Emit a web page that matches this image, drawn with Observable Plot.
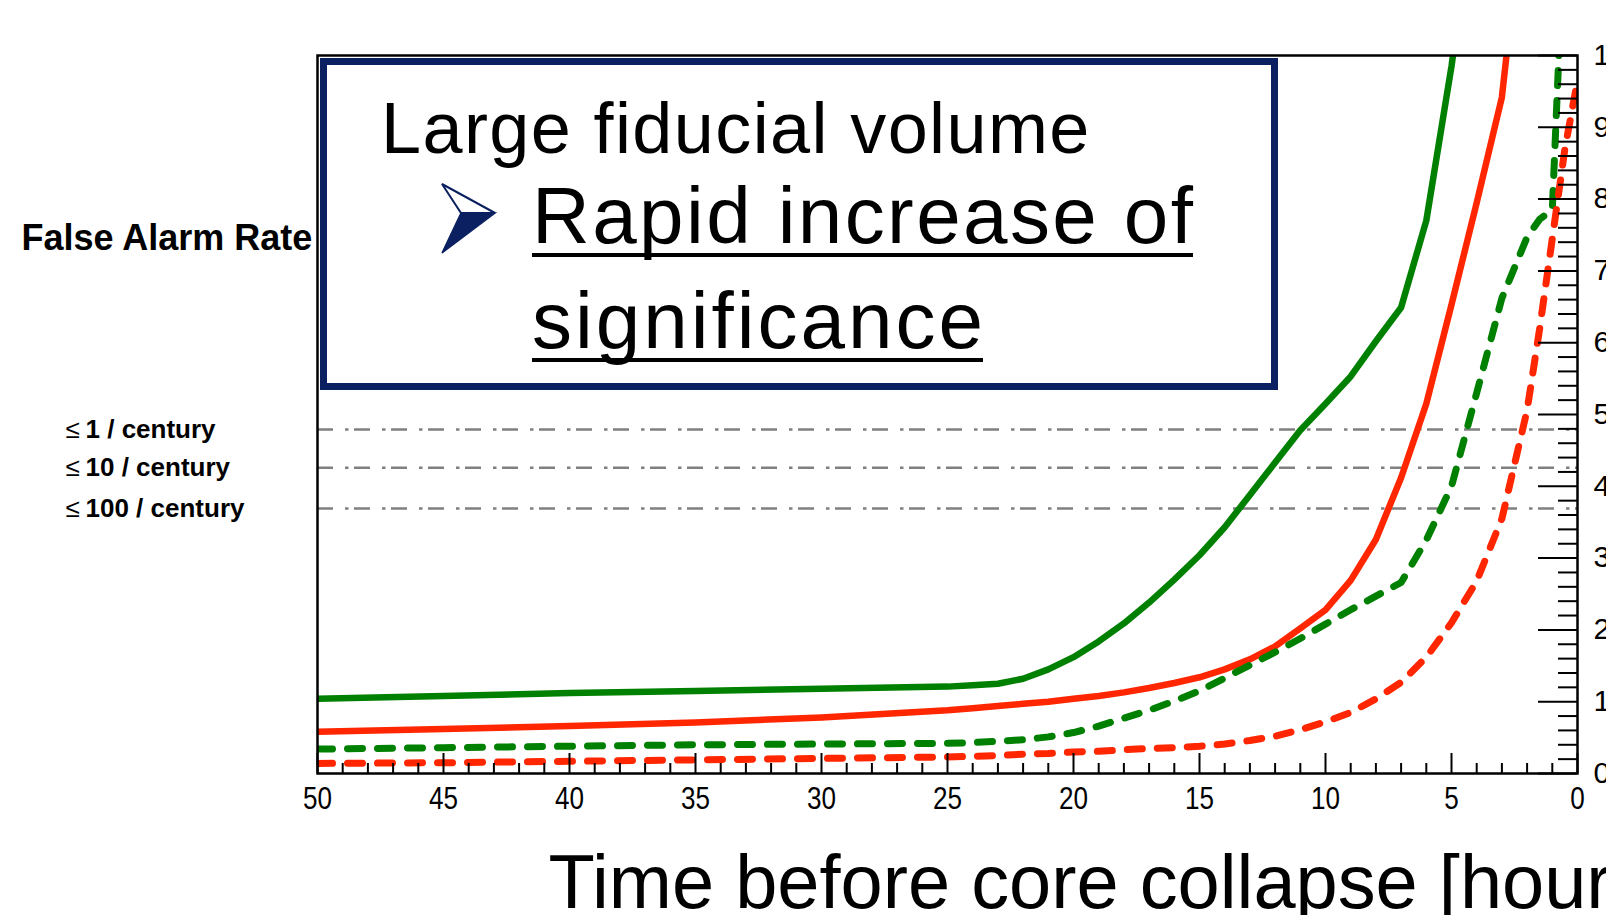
<!DOCTYPE html>
<html>
<head>
<meta charset="utf-8">
<script src="https://cdn.jsdelivr.net/npm/d3@7"></script>
<script src="https://cdn.jsdelivr.net/npm/@observablehq/plot@0.6"></script>
<style>
html, body { margin: 0; padding: 0; background: #fff; overflow: hidden; width: 1606px; height: 915px; }
#wrap { position: relative; width: 1606px; height: 915px; }
#ov { position: absolute; left: 0; top: 0; pointer-events: none; }
</style>
</head>
<body>
<div id="wrap"></div>
<script>
// ---------- data ----------
const hours = [50,45,40,35,30,25,24,23,22,21,20,19,18,17,16,15,14,13,12,11,10,9,8,7,6,5,4,3,2,1.5,1,0.5,0];

const greenSolid  = [1.04,1.08,1.12,1.15,1.18,1.21,1.23,1.25,1.32,1.45,1.62,1.84,2.09,2.38,2.70,3.04,3.43,3.88,4.33,4.78,5.15,5.53,6.02,6.49,7.70,9.85,12.4,null,null,null,null,null,null];
const redSolid    = [0.58,0.62,0.66,0.71,0.78,0.88,0.91,0.94,0.97,1.00,1.04,1.08,1.13,1.19,1.26,1.34,1.45,1.59,1.77,2.02,2.28,2.69,3.26,4.12,5.15,6.53,7.95,9.42,12.6,null,null,null,null];
const greenDashed = [0.34,0.36,0.38,0.40,0.41,0.42,0.43,0.45,0.47,0.51,0.57,0.66,0.77,0.88,1.01,1.15,1.33,1.51,1.69,1.88,2.08,2.28,2.47,2.66,3.25,4.00,5.30,6.62,7.47,7.72,7.85,12.0,null];
const redDashed   = [0.14,0.15,0.17,0.19,0.21,0.23,0.24,0.25,0.27,0.28,0.30,0.31,0.33,0.35,0.36,0.38,0.41,0.46,0.52,0.61,0.72,0.85,1.04,1.27,1.62,2.10,2.68,3.55,5.06,6.20,7.45,8.70,9.65];

const farLevels = [4.79, 4.26, 3.69];
const farLabels = ["1 / century", "10 / century", "100 / century"];

const xTickLabels = [50,45,40,35,30,25,20,15,10,5,0];
const yTickLabels = [0,1,2,3,4,5,6,7,8,9,10];
const xMinorTicks = d3.range(0, 51, 1).filter(v => v % 5 !== 0);
const yMinorTicks = d3.range(0, 10.001, 0.2).map(v => +v.toFixed(1)).filter(v => Math.abs(v - Math.round(v)) > 1e-6);

// ---------- layout ----------
const W = 1606, H = 915;
const mL = 317, mR = 29, mT = 55, mB = 142;
const plotW = W - mL - mR, plotH = H - mT - mB;

const GREEN = "#008000", RED = "#ff2600";
const rows = (vals) => hours.map((h, i) => ({h, v: vals[i]}));

const sans = "'Liberation Sans', Arial, sans-serif";

const chart = Plot.plot({
  width: W, height: H,
  marginLeft: mL, marginRight: mR, marginTop: mT, marginBottom: mB,
  style: {fontFamily: sans, background: "#fff"},
  x: {domain: [50, 0]},
  y: {domain: [0, 10]},
  marks: [
    Plot.ruleY(farLevels, {stroke: "#808080", strokeWidth: 2.5, strokeDasharray: "16,12,3.5,5.5"}),
    Plot.line(rows(greenSolid), {x: "h", y: "v", stroke: GREEN, strokeWidth: 6.5, strokeLinejoin: "round", clip: true}),
    Plot.line(rows(redSolid), {x: "h", y: "v", stroke: RED, strokeWidth: 6.5, strokeLinejoin: "round", clip: true}),
    Plot.line(rows(greenDashed), {x: "h", y: "v", stroke: GREEN, strokeWidth: 7, strokeDasharray: "15,15", clip: true}),
    Plot.line(rows(redDashed), {x: "h", y: "v", stroke: RED, strokeWidth: 7, strokeDasharray: "15,15", clip: true}),
    Plot.tickX(xMinorTicks, {x: d => d, insetTop: plotH - 10, stroke: "#000", strokeWidth: 2}),
    Plot.tickX(xTickLabels, {x: d => d, insetTop: plotH - 20, stroke: "#000", strokeWidth: 2}),
    Plot.tickY(yMinorTicks, {y: d => d, insetLeft: plotW - 19, stroke: "#000", strokeWidth: 2}),
    Plot.tickY(yTickLabels, {y: d => d, insetLeft: plotW - 39, stroke: "#000", strokeWidth: 2}),
    Plot.frame({stroke: "#000", strokeWidth: 2.5}),
    Plot.axisX(xTickLabels, {tickSize: 0, tickPadding: 13, fontSize: 31, label: null}),
    Plot.axisY(yTickLabels, {anchor: "right", tickSize: 0, tickPadding: 16, fontSize: 29, label: null}),
    Plot.text(farLevels, {y: d => d, frameAnchor: "left", dx: -252, text: () => "\u2264", textAnchor: "start", lineAnchor: "middle", fontSize: 26, fill: "#000"}),
    Plot.text(farLevels, {y: d => d, frameAnchor: "left", dx: -232, text: (d, i) => farLabels[i], textAnchor: "start", lineAnchor: "middle", fontSize: 26, fontWeight: "bold", fill: "#000"}),
    Plot.text(["False Alarm Rate"], {frameAnchor: "top-left", dx: -296, dy: 194, textAnchor: "start", lineAnchor: "bottom", fontSize: 36, fontWeight: "bold", fill: "#000"}),
    Plot.text(["Time before core collapse [hours]"], {frameAnchor: "bottom-left", dx: 231, dy: 134, textAnchor: "start", lineAnchor: "bottom", fontSize: 75.8, fill: "#000"})
  ]
});
document.getElementById("wrap").appendChild(chart);

// narrow (Helvetica-condensed look) tick numerals
d3.select(chart).selectAll('g[aria-label="x-axis tick label"] text').each(function () {
  this.setAttribute("textLength", this.textContent.length * 14.5);
  this.setAttribute("lengthAdjust", "spacingAndGlyphs");
});
d3.select(chart).selectAll('g[aria-label="y-axis tick label"] text').each(function () {
  this.setAttribute("textLength", this.textContent.length * 14);
  this.setAttribute("lengthAdjust", "spacingAndGlyphs");
});

// ---------- annotation box overlay ----------
const NAVY = "#0a2060";
const ov = d3.select("#wrap").append("svg").attr("id", "ov").attr("width", W).attr("height", H);
ov.append("rect").attr("x", 323.5).attr("y", 61.5).attr("width", 951).attr("height", 325)
  .attr("fill", "#fff").attr("stroke", NAVY).attr("stroke-width", 7);
const tf = ov.append("g").attr("font-family", sans).attr("fill", "#000");
tf.append("text").attr("x", 381).attr("y", 153).attr("font-size", 72).attr("letter-spacing", 1.4).text("Large fiducial volume");
const t1 = tf.append("text").attr("x", 532).attr("y", 243).attr("font-size", 80).attr("letter-spacing", 2.4).text("Rapid increase of");
const t2 = tf.append("text").attr("x", 532).attr("y", 348).attr("font-size", 80).attr("letter-spacing", 3).text("significance");
[[t1, 255, 2.4], [t2, 360, 3]].forEach(([t, uy, ls]) => {
  const len = t.node().getComputedTextLength();
  ov.append("line").attr("x1", 532).attr("x2", 532 + len - ls).attr("y1", uy).attr("y2", uy)
    .attr("stroke", "#000").attr("stroke-width", 4);
});
// arrowhead bullet
ov.append("polygon").attr("points", "442,184 495,213 461,213").attr("fill", "#fff").attr("stroke", NAVY).attr("stroke-width", 2).attr("stroke-linejoin", "miter");
ov.append("polygon").attr("points", "461,213 495,213 442,253").attr("fill", NAVY).attr("stroke", NAVY).attr("stroke-width", 1.5);
</script>
</body>
</html>
